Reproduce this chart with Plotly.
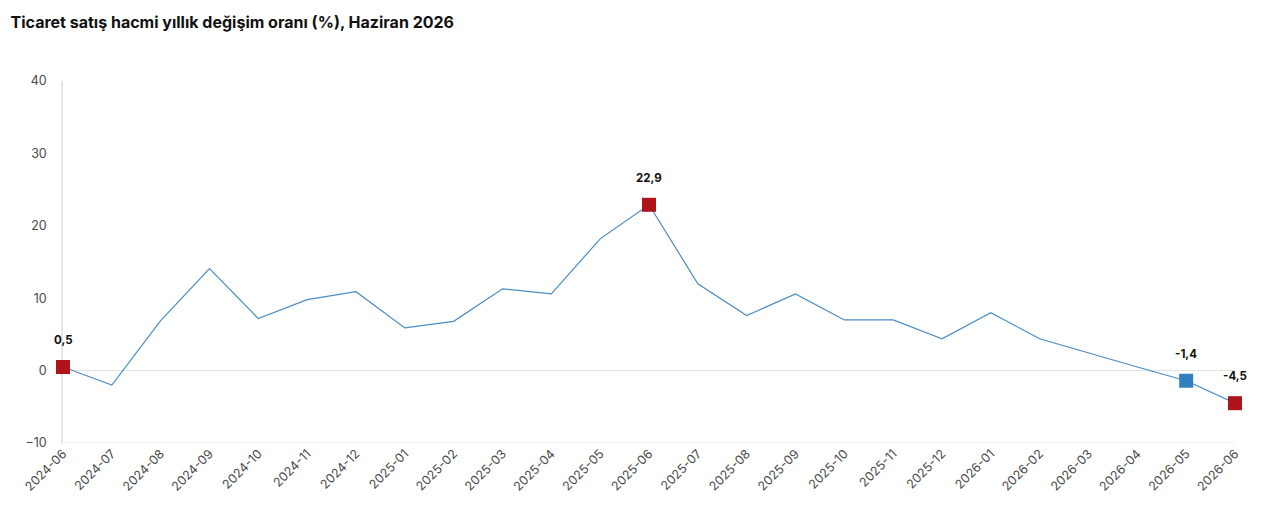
import plotly.graph_objects as go

months = ["2024-06", "2024-07", "2024-08", "2024-09", "2024-10", "2024-11", "2024-12",
          "2025-01", "2025-02", "2025-03", "2025-04", "2025-05", "2025-06", "2025-07",
          "2025-08", "2025-09", "2025-10", "2025-11", "2025-12", "2026-01", "2026-02",
          "2026-03", "2026-04", "2026-05", "2026-06"]
values = [0.5, -2.0, 6.9, 14.1, 7.2, 9.8, 10.9, 5.9, 6.8, 11.3, 10.6, 18.2, 22.9, 12.0,
          7.6, 10.6, 7.0, 7.0, 4.4, 8.0, 4.4, 2.4, 0.5, -1.4, -4.5]

# highlighted months (red = same month, blue = previous month)
red_months = ["2024-06", "2025-06", "2026-06"]
blue_months = ["2026-05"]

RED = "#B0141B"
BLUE = "#2F7FC1"
LINE = "#4A8CC4"

lookup = dict(zip(months, values))

fig = go.Figure()
fig.add_trace(go.Scatter(x=months, y=values, mode="lines",
                         line=dict(color=LINE, width=1.2), cliponaxis=False,
                         hoverinfo="x+y", showlegend=False))
fig.add_trace(go.Scatter(x=red_months, y=[lookup[m] for m in red_months], mode="markers",
                         marker=dict(symbol="square", size=14, color=RED),
                         cliponaxis=False, showlegend=False))
fig.add_trace(go.Scatter(x=blue_months, y=[lookup[m] for m in blue_months], mode="markers",
                         marker=dict(symbol="square", size=14, color=BLUE),
                         cliponaxis=False, showlegend=False))

for m in red_months + blue_months:
    fig.add_annotation(x=m, y=lookup[m], text="<b>" + f"{lookup[m]:.1f}".replace(".", ",") + "</b>",
                       showarrow=False, yshift=27,
                       font=dict(family="Inter, Arial", size=11.5, color="#111"))

fig.update_layout(
    width=1280, height=518,
    margin=dict(l=55, r=53, t=73, b=83),
    paper_bgcolor="white", plot_bgcolor="white",
    separators=",.",
    title=dict(text="<b>Ticaret satış hacmi yıllık değişim oranı (%), Haziran 2026</b>",
               x=0.002, xanchor="left", y=0.972, yanchor="middle",
               font=dict(family="Inter, Arial", size=16, color="#111")),
    font=dict(family="Inter, Arial", size=12, color="#555"),
)
fig.update_xaxes(type="category", range=[0, len(months) - 1], tickangle=-45,
                 showgrid=False, showline=False, zeroline=False, layer="below traces",
                 tickfont=dict(size=12.5, color="#4a4a4a"))
fig.update_yaxes(range=[-10, 40], tickvals=[-10, 0, 10, 20, 30, 40],
                 showgrid=False, zeroline=True, zerolinecolor="#E3E3E3", zerolinewidth=1,
                 showline=True, linecolor="#E6E6E6", linewidth=1.5, layer="below traces",
                 ticklabelstandoff=12, tickfont=dict(size=12.5, color="#4a4a4a"))
# bottom baseline at -10
fig.add_hline(y=-10, line=dict(color="#E3E3E3", width=1), layer="below")

fig.write_html("out.html")
